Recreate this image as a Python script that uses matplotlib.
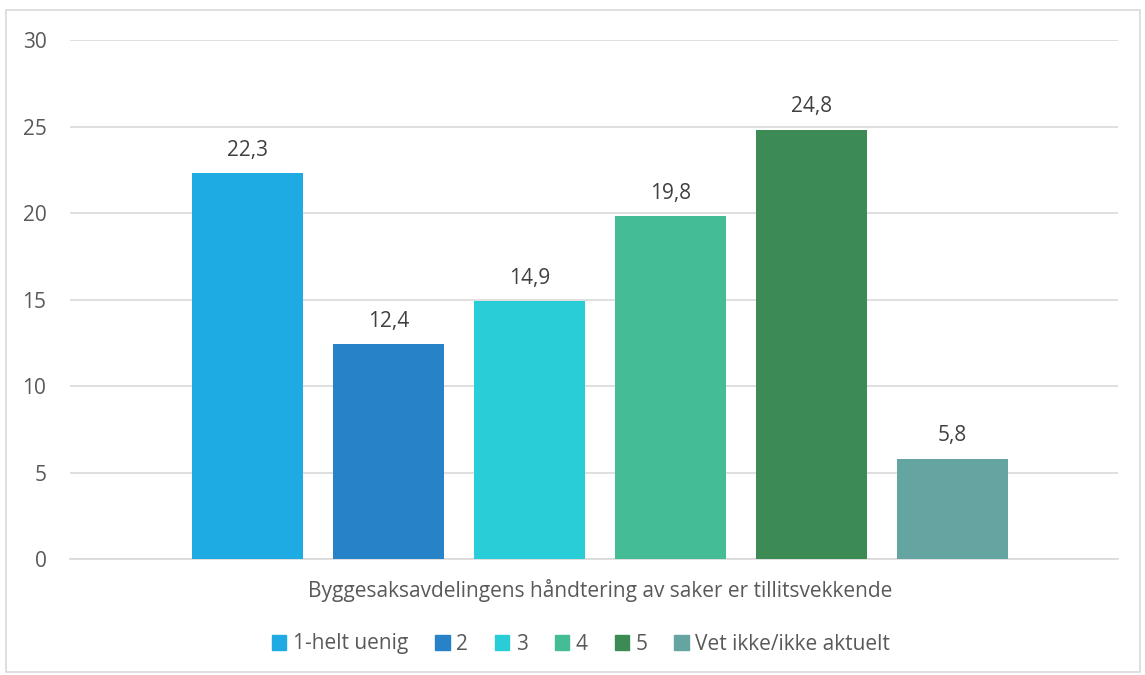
import matplotlib
matplotlib.use("Agg")
import matplotlib.pyplot as plt
from matplotlib.patches import Rectangle, Patch

categories = ["1-helt uenig", "2", "3", "4", "5", "Vet ikke/ikke aktuelt"]
values = [22.3, 12.4, 14.9, 19.8, 24.8, 5.8]
colors = ["#1EABE3", "#2882C7", "#29CDD8", "#44BC96", "#3C8A54", "#64A4A1"]
xlabel = "Byggesaksavdelingens håndtering av saker er tillitsvekkende"
yticks = [0, 5, 10, 15, 20, 25, 30]

plt.rcParams['font.family'] = ['Open Sans', 'DejaVu Sans']
txt = "#595959"
fs = 15

W, H = 1145, 675
fig = plt.figure(figsize=(W/100, H/100), dpi=100)
fig.patches.append(Rectangle((6/W, 1-672/H), (1140-6)/W, (672-10)/H,
                             transform=fig.transFigure, fill=False,
                             edgecolor="#D9D9D9", linewidth=1.2))

left, right, top, bottom = 70, 1118, 40, 559
ax = fig.add_axes([left/W, 1-bottom/H, (right-left)/W, (bottom-top)/H])

x = list(range(len(values)))
ax.bar(x, values, width=111/141, color=colors, zorder=3)
for xi, v in zip(x, values):
    ax.annotate(f"{v:.1f}".replace(".", ","), (xi, v), xytext=(0, 9),
                textcoords="offset points", ha="center", va="bottom",
                fontsize=fs, color="#404040")

ax.set_xlim((left-247.5)/141, (right-247.5)/141)
ax.set_ylim(0, 30)
ax.set_yticks(yticks)
ax.set_yticklabels([str(t) for t in yticks], fontsize=fs, color=txt)
ax.tick_params(axis='y', length=0, pad=17)
ax.set_xticks([])
ax.grid(axis='y', color="#D9D9D9", linewidth=1.2, zorder=0)
for s in ["top", "left", "right"]:
    ax.spines[s].set_visible(False)
ax.spines["bottom"].set_color("#D9D9D9")
ax.spines["bottom"].set_linewidth(1.2)

fig.text(600/W, 1-590/H, xlabel, ha="center", va="center", fontsize=fs, color=txt)

handles = [Patch(facecolor=c, edgecolor=c) for c in colors]
fig.legend(handles, categories, loc="center", bbox_to_anchor=(581/W, 1-644/H),
           ncol=6, frameon=False, fontsize=fs, labelcolor=txt,
           handlelength=0.7, handleheight=0.7, handletextpad=0.3, columnspacing=1.3)

fig.savefig("out.png", dpi=100)
